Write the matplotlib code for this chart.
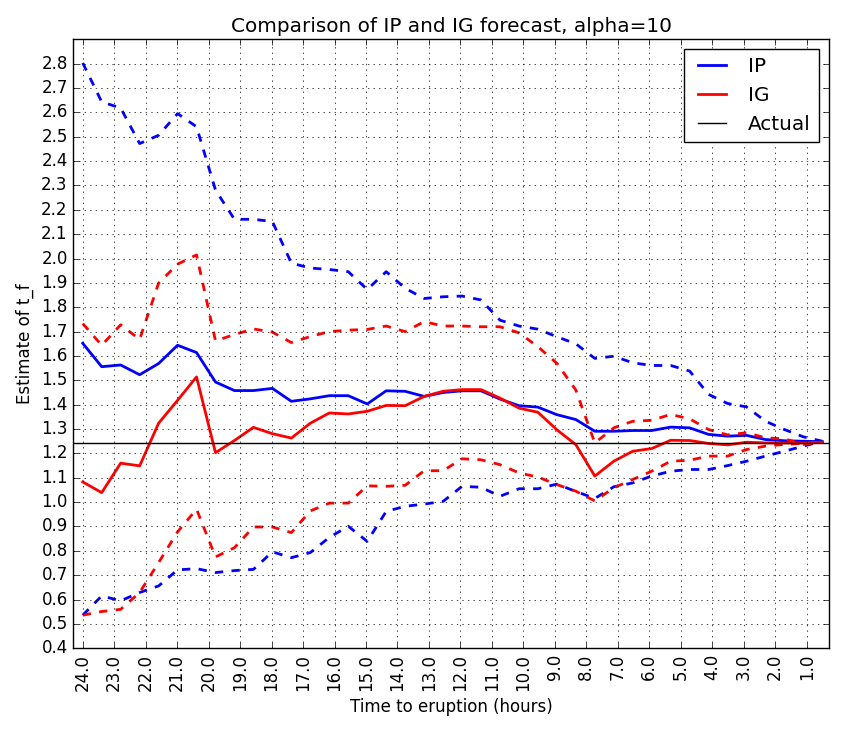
import numpy as np
import matplotlib
matplotlib.use("Agg")
import matplotlib.pyplot as plt

hours = np.linspace(24.0, 0.5, 40)

ip_mean = [1.652, 1.556, 1.563, 1.523, 1.569, 1.644, 1.614, 1.493, 1.458, 1.458,
           1.467, 1.414, 1.424, 1.437, 1.437, 1.403, 1.457, 1.455, 1.434, 1.450,
           1.457, 1.457, 1.423, 1.396, 1.390, 1.359, 1.339, 1.291, 1.291, 1.294,
           1.294, 1.308, 1.305, 1.278, 1.271, 1.274, 1.257, 1.252, 1.250, 1.248]
ip_upper = [2.803, 2.643, 2.618, 2.472, 2.506, 2.595, 2.541, 2.281, 2.161, 2.161,
            2.152, 1.981, 1.961, 1.955, 1.946, 1.873, 1.946, 1.878, 1.836, 1.843,
            1.846, 1.830, 1.747, 1.723, 1.710, 1.679, 1.650, 1.590, 1.599, 1.572,
            1.561, 1.561, 1.538, 1.442, 1.405, 1.391, 1.332, 1.298, 1.268, 1.250]
ip_lower = [0.536, 0.615, 0.595, 0.629, 0.656, 0.722, 0.727, 0.711, 0.719, 0.724,
            0.796, 0.772, 0.793, 0.855, 0.901, 0.839, 0.962, 0.983, 0.992, 1.003,
            1.065, 1.061, 1.024, 1.055, 1.055, 1.074, 1.044, 1.015, 1.063, 1.079,
            1.107, 1.127, 1.134, 1.134, 1.150, 1.168, 1.189, 1.209, 1.230, 1.250]
ig_mean = [1.083, 1.039, 1.160, 1.149, 1.324, 1.418, 1.514, 1.203, 1.253, 1.307,
           1.281, 1.263, 1.324, 1.366, 1.362, 1.373, 1.397, 1.396, 1.434, 1.455,
           1.462, 1.462, 1.427, 1.386, 1.369, 1.297, 1.236, 1.107, 1.168, 1.209,
           1.220, 1.254, 1.253, 1.241, 1.235, 1.246, 1.243, 1.243, 1.243, 1.246]
ig_upper = [1.733, 1.644, 1.728, 1.668, 1.899, 1.977, 2.015, 1.662, 1.688, 1.711,
            1.698, 1.655, 1.680, 1.700, 1.706, 1.709, 1.723, 1.700, 1.741, 1.723,
            1.723, 1.720, 1.720, 1.695, 1.638, 1.570, 1.460, 1.243, 1.305, 1.332,
            1.336, 1.360, 1.342, 1.298, 1.276, 1.285, 1.264, 1.260, 1.237, 1.246]
ig_lower = [0.536, 0.551, 0.560, 0.629, 0.752, 0.878, 0.971, 0.775, 0.813, 0.898,
            0.898, 0.875, 0.964, 0.996, 0.996, 1.067, 1.065, 1.069, 1.129, 1.129,
            1.178, 1.174, 1.154, 1.120, 1.103, 1.072, 1.045, 1.005, 1.059, 1.093,
            1.127, 1.168, 1.172, 1.189, 1.189, 1.216, 1.230, 1.237, 1.241, 1.246]
actual = 1.243

x_ticks = [24.0, 23.0, 22.0, 21.0, 20.0, 19.0, 18.0, 17.0, 16.0, 15.0, 14.0, 13.0,
           12.0, 11.0, 10.0, 9.0, 8.0, 7.0, 6.0, 5.0, 4.0, 3.0, 2.0, 1.0]
y_ticks = [round(0.4 + 0.1 * k, 1) for k in range(25)]

plt.style.use('classic')
fig = plt.figure(figsize=(8.46, 7.30), dpi=100, facecolor='white')
ax = fig.add_axes([73.3 / 846, 1 - 648.3 / 730, (828.7 - 73.3) / 846, (648.3 - 39.3) / 730])

ax.plot(hours, ip_mean, color='blue', lw=2, label='IP')
ax.plot(hours, ip_upper, color='blue', lw=2, ls='--')
ax.plot(hours, ip_lower, color='blue', lw=2, ls='--')
ax.plot(hours, ig_mean, color='red', lw=2, label='IG')
ax.plot(hours, ig_upper, color='red', lw=2, ls='--')
ax.plot(hours, ig_lower, color='red', lw=2, ls='--')
ax.axhline(actual, color='black', lw=1, label='Actual')

ax.set_xlim(24.3, 0.3)
ax.set_ylim(0.4, 2.9)
ax.set_xticks(x_ticks)
ax.set_xticklabels(['%.1f' % t for t in x_ticks], rotation=90)
ax.set_yticks(y_ticks)
ax.set_yticklabels(['%.1f' % t for t in y_ticks])
ax.grid(True)
ax.set_title('Comparison of IP and IG forecast, alpha=10')
ax.set_xlabel('Time to eruption (hours)')
ax.set_ylabel('Estimate of t_f')
ax.legend(loc='upper right')

fig.savefig('out.png', dpi=100, facecolor='white')
